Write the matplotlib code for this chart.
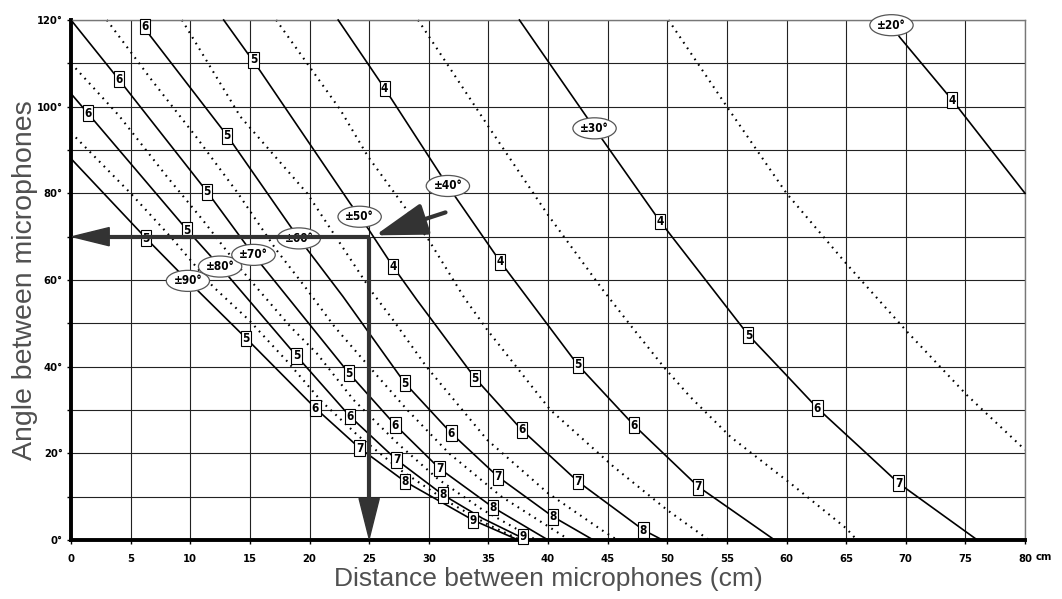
import matplotlib.pyplot as plt
from matplotlib.patches import FancyArrow

# solid curves (recording angle)
x_90 = [0, 6.3, 9.8, 14.7, 20.5, 24.2, 28.0, 33.7, 37.5]
y_90 = [88, 69.6, 59.8, 46.5, 30.4, 21.2, 13.5, 4.6, 0]
x_80 = [0, 1.4, 9.75, 12.5, 18.9, 23.4, 27.3, 31.2, 34.5, 38.2]
y_80 = [103, 98.5, 71.5, 63.1, 42.5, 28.5, 18.5, 10.4, 5.0, 0]
x_70 = [0, 4.0, 11.4, 15.3, 23.3, 27.2, 30.9, 35.4, 40.0]
y_70 = [120, 106.3, 80.4, 65.8, 38.5, 26.5, 16.5, 7.5, 0]
x_60 = [5.9, 6.6, 13.1, 19.1, 22.8, 28.0, 31.9, 35.8, 40.4, 43.8]
y_60 = [120, 116.5, 93.3, 69.6, 56.2, 36.2, 24.6, 14.6, 5.4, 0]
x_50 = [12.8, 15.8, 23.4, 24.9, 27.0, 29.0, 33.9, 37.8, 42.5, 48.0, 49.6]
y_50 = [120, 108.5, 77.7, 71.9, 63.1, 55.4, 37.3, 25.4, 13.5, 2.3, 0]
x_40 = [22.4, 26.3, 31.6, 36.0, 42.5, 47.2, 52.6, 59.0]
y_40 = [120, 104.2, 81.7, 64.2, 40.4, 26.5, 12.3, 0]
x_30 = [37.6, 43.9, 49.4, 56.8, 60.0, 62.6, 66.7, 69.4, 76.0]
y_30 = [120, 95.0, 73.5, 47.3, 38.0, 30.4, 20.0, 13.1, 0]
x_20 = [68.8, 69.5, 73.9, 80.0]
y_20 = [118.8, 116.0, 101.5, 80.0]

# dotted intermediate curves
x_85 = [0, 5.0, 8.5, 11.9, 14.9, 18.2, 21.0, 24.1, 27.7, 31.5, 35.0, 37.7]
y_85 = [94, 80, 69.5, 58.5, 50.8, 41, 32, 24, 16, 9, 3.5, 0]
x_75 = [0, 4.0, 8.0, 11.0, 14.3, 18.4, 20.6, 23.7, 27.5, 30.8, 34.5, 39.0]
y_75 = [110, 98, 84, 74, 62.3, 49.2, 43.1, 32.3, 22, 14, 7, 0]
x_65 = [3.0, 6.8, 10.5, 14.0, 17.2, 19.6, 22.1, 25.0, 28.2, 31.7, 36.1, 41.8]
y_65 = [120, 106, 93, 80, 67, 58.5, 49.2, 40, 30, 20, 10, 0]
x_55 = [9.3, 14.2, 19.8, 25.3, 27.0, 29.8, 34.9, 40.0, 44.5, 45.8]
y_55 = [120, 97.7, 80, 57, 50.8, 40, 23.1, 10.8, 2.3, 0]
x_45 = [17.2, 22.6, 24.9, 30.0, 33.0, 34.9, 40.2, 45.5, 50.0, 53.5]
y_45 = [120, 99.2, 88.5, 69.2, 55.8, 48.5, 30, 16.9, 6.9, 0]
x_35 = [29.1, 35.1, 40.0, 44.6, 46.9, 49.8, 51.9, 55.3, 60.5, 65.0, 65.9]
y_35 = [120, 95, 75, 57.7, 49.6, 39.6, 33.1, 23.8, 12.7, 2.7, 0]
x_25 = [50.1, 55.0, 60.0, 65.0, 70.1, 75.1, 80.0]
y_25 = [120, 100, 80, 63.8, 48.1, 33.5, 20.8]

# angle labels on the solid curves
angle_names = ['±90°', '±80°', '±70°', '±60°', '±50°', '±40°', '±30°', '±20°']
angle_lab_x = [9.8, 12.5, 15.3, 19.1, 24.2, 31.6, 43.9, 68.8]
angle_lab_y = [59.8, 63.1, 65.8, 69.6, 74.6, 81.7, 95.0, 118.8]

# boxed numbers along the curves (value, x, y)
num_90 = [('5', 6.3, 69.6), ('5', 14.7, 46.5), ('6', 20.5, 30.4), ('7', 24.2, 21.2),
          ('8', 28.0, 13.5), ('9', 33.7, 4.6)]
num_80 = [('6', 1.4, 98.5), ('5', 9.75, 71.5), ('5', 18.9, 42.5), ('6', 23.4, 28.5),
          ('7', 27.3, 18.5), ('8', 31.2, 10.4), ('9', 37.9, 0.8)]
num_70 = [('6', 4.0, 106.3), ('5', 11.4, 80.4), ('5', 23.3, 38.5), ('6', 27.2, 26.5),
          ('7', 30.9, 16.5), ('8', 35.4, 7.5)]
num_60 = [('6', 6.2, 118.5), ('5', 13.1, 93.3), ('5', 28.0, 36.2), ('6', 31.9, 24.6),
          ('7', 35.8, 14.6), ('8', 40.4, 5.4)]
num_50 = [('5', 15.3, 110.8), ('4', 27.0, 63.1), ('5', 33.9, 37.3), ('6', 37.8, 25.4),
          ('7', 42.5, 13.5), ('8', 48.0, 2.3)]
num_40 = [('4', 26.3, 104.2), ('4', 36.0, 64.2), ('5', 42.5, 40.4), ('6', 47.2, 26.5),
          ('7', 52.6, 12.3)]
num_30 = [('4', 49.4, 73.5), ('5', 56.8, 47.3), ('6', 62.6, 30.4), ('7', 69.4, 13.1)]
num_20 = [('4', 73.9, 101.5)]

# example reading: 25 cm -> 70 degrees
ex_dist = 25
ex_angle = 70

fig = plt.figure(figsize=(10.62, 5.99), dpi=100)
ax = fig.add_axes([0.0669, 0.0985, 0.8983, 0.8681])
ax.set_xlim(0, 80)
ax.set_ylim(0, 120)

tick_font = dict(family='DejaVu Sans', weight='bold', size=8, stretch='condensed')

ax.set_xticks(range(0, 81, 5))
ax.set_xticklabels([str(v) for v in range(0, 81, 5)], fontdict=tick_font)
ax.set_yticks(range(0, 121, 20))
ax.set_yticklabels([f'{v}°' for v in range(0, 121, 20)], fontdict=tick_font)
ax.set_yticks(range(10, 120, 20), minor=True)
ax.tick_params(axis='both', which='both', length=3, width=1, color='black')
ax.tick_params(axis='x', pad=7)
ax.tick_params(axis='y', pad=3)
ax.grid(True, which='both', color='#222222', lw=0.8, zorder=0)
ax.set_axisbelow(True)
ax.text(80.9, -0.033, 'cm', transform=ax.get_xaxis_transform(), va='center', ha='left',
        **tick_font)

for side in ['left', 'bottom']:
    ax.spines[side].set_linewidth(2.8)
for side in ['top', 'right']:
    ax.spines[side].set_color('#777777')
    ax.spines[side].set_linewidth(1)

dotted = [(x_85, y_85), (x_75, y_75), (x_65, y_65), (x_55, y_55),
          (x_45, y_45), (x_35, y_35), (x_25, y_25)]
for xs, ys in dotted:
    ax.plot(xs, ys, color='black', lw=1.5, ls=(0, (0.8, 2.4)), zorder=2, clip_on=False)

solid = [(x_90, y_90), (x_80, y_80), (x_70, y_70), (x_60, y_60),
         (x_50, y_50), (x_40, y_40), (x_30, y_30), (x_20, y_20)]
for xs, ys in solid:
    ax.plot(xs, ys, color='black', lw=1.2, zorder=3, clip_on=False)

for labels in [num_90, num_80, num_70, num_60, num_50, num_40, num_30, num_20]:
    for val, x, y in labels:
        ax.text(x, y, val, ha='center', va='center', zorder=4,
                family='DejaVu Sans', weight='bold', size=8.5, stretch='condensed',
                bbox=dict(boxstyle='square,pad=0.12', fc='white', ec='black', lw=0.8))

for name, x, y in zip(angle_names, angle_lab_x, angle_lab_y):
    ax.text(x, y, name, ha='center', va='center', zorder=4,
            family='DejaVu Sans', weight='bold', size=8.5, stretch='condensed',
            bbox=dict(boxstyle='ellipse,pad=0.08', fc='white', ec='#555555', lw=0.9))

# example arrows
arrow_col = '#333333'
ax.plot([ex_dist, 3.0], [ex_angle, ex_angle], color=arrow_col, lw=3, zorder=5,
        solid_capstyle='butt')
ax.add_patch(FancyArrow(3.2, ex_angle, -3.1, 0, width=0.01, head_width=4.2,
                        head_length=3.1, length_includes_head=True,
                        color=arrow_col, zorder=5))
ax.plot([ex_dist, ex_dist], [ex_angle, 9.0], color=arrow_col, lw=3, zorder=5,
        solid_capstyle='butt')
ax.add_patch(FancyArrow(ex_dist, 9.6, 0, -9.3, width=0.01, head_width=1.7,
                        head_length=9.3, length_includes_head=True,
                        color=arrow_col, zorder=5))
ax.annotate('', xy=(ex_dist + 0.5, ex_angle + 0.3), xytext=(31.4, 75.6),
            arrowprops=dict(arrowstyle='-|>,head_length=1.6,head_width=0.5',
                            lw=3, color=arrow_col, mutation_scale=20,
                            shrinkA=0, shrinkB=0), zorder=5)

ax.set_xlabel('Distance between microphones (cm)', labelpad=2,
              family='Liberation Sans', size=19, color='#505050')
ax.set_ylabel('Angle between microphones', labelpad=-1,
              family='Liberation Sans', size=20.5, color='#505050')

fig.savefig('out.png', dpi=100)
